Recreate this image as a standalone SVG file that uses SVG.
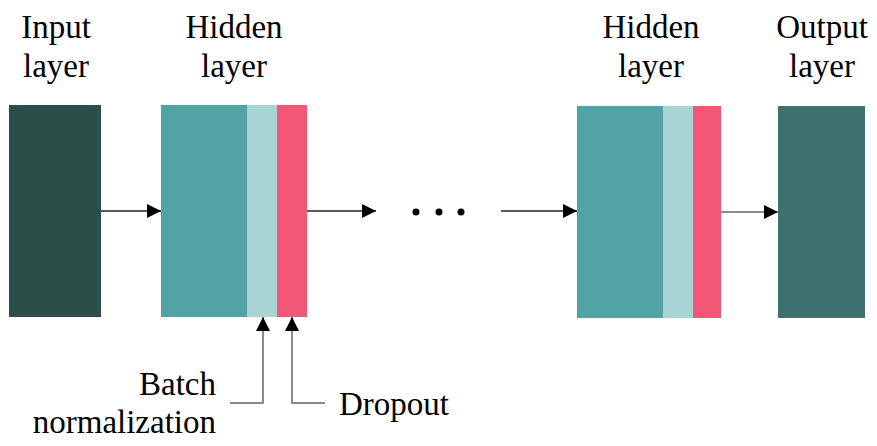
<svg xmlns="http://www.w3.org/2000/svg" width="877" height="446" viewBox="0 0 877 446">
  <defs>
    <style>
      text { fill: #000; }
    </style>
    <marker id="tip" viewBox="0 0 10 10" refX="10" refY="5" markerWidth="14" markerHeight="14" markerUnits="userSpaceOnUse" orient="auto">
      <path d="M0,0 L10,5 L0,10 Z" fill="#000"/>
    </marker>
  </defs>
  <rect width="877" height="446" fill="#fff"/>

  <!-- labels are set at 30px and scaled up 1.1x to 33px -->
  <g id="input-layer">
    <rect x="9" y="105" width="92" height="212" fill="#2b4f48"/>
    <g font-family="Liberation Serif" font-size="30" text-anchor="middle">
      <text transform="translate(56 38) scale(1.1)">Input</text>
      <text transform="translate(56 77) scale(1.1)">layer</text>
    </g>
  </g>

  <g id="hidden-layer-1">
    <rect x="161" y="105" width="86" height="212" fill="#52a3a3"/>
    <rect x="247" y="105" width="30" height="212" fill="#a8d4d3"/>
    <rect x="277" y="105" width="30" height="212" fill="#f25876"/>
    <g font-family="Liberation Serif" font-size="30" text-anchor="middle">
      <text transform="translate(234 38) scale(1.1)">Hidden</text>
      <text transform="translate(234 77) scale(1.1)">layer</text>
    </g>
  </g>

  <g id="ellipsis">
    <circle cx="416" cy="212" r="3.5" fill="#000"/>
    <circle cx="439" cy="212" r="3.5" fill="#000"/>
    <circle cx="461" cy="212" r="3.5" fill="#000"/>
  </g>

  <g id="hidden-layer-n">
    <rect x="577" y="106" width="86" height="212" fill="#52a3a3"/>
    <rect x="663" y="106" width="30" height="212" fill="#a8d4d3"/>
    <rect x="693" y="106" width="28" height="212" fill="#f25876"/>
    <g font-family="Liberation Serif" font-size="30" text-anchor="middle">
      <text transform="translate(651 38) scale(1.1)">Hidden</text>
      <text transform="translate(651 77) scale(1.1)">layer</text>
    </g>
  </g>

  <g id="output-layer">
    <rect x="778" y="106" width="87" height="212" fill="#407171"/>
    <g font-family="Liberation Serif" font-size="30" text-anchor="middle">
      <text transform="translate(822 38) scale(1.1)">Output</text>
      <text transform="translate(822 77) scale(1.1)">layer</text>
    </g>
  </g>

  <g id="batch-norm-label" font-family="Liberation Serif" font-size="30" text-anchor="end">
    <text transform="translate(216 395) scale(1.1)">Batch</text>
    <text transform="translate(216 433) scale(1.1)">normalization</text>
  </g>

  <g id="dropout-label" font-family="Liberation Serif" font-size="30">
    <text transform="translate(339 415) scale(1.1)">Dropout</text>
  </g>

  <g id="connectors" fill="none">
    <line x1="101" y1="211" x2="161" y2="211" stroke="#222" stroke-width="1.3" marker-end="url(#tip)"/>
    <line x1="307" y1="211" x2="376" y2="211" stroke="#222" stroke-width="1.3" marker-end="url(#tip)"/>
    <line x1="501" y1="211" x2="577" y2="211" stroke="#222" stroke-width="1.3" marker-end="url(#tip)"/>
    <line x1="721" y1="212" x2="778" y2="212" stroke="#666" stroke-width="1.5" marker-end="url(#tip)"/>
    <polyline points="230,403 263,403 263,317" stroke="#666" stroke-width="1.5" marker-end="url(#tip)"/>
    <polyline points="325,403 292,403 292,317" stroke="#666" stroke-width="1.5" marker-end="url(#tip)"/>
  </g>
</svg>
